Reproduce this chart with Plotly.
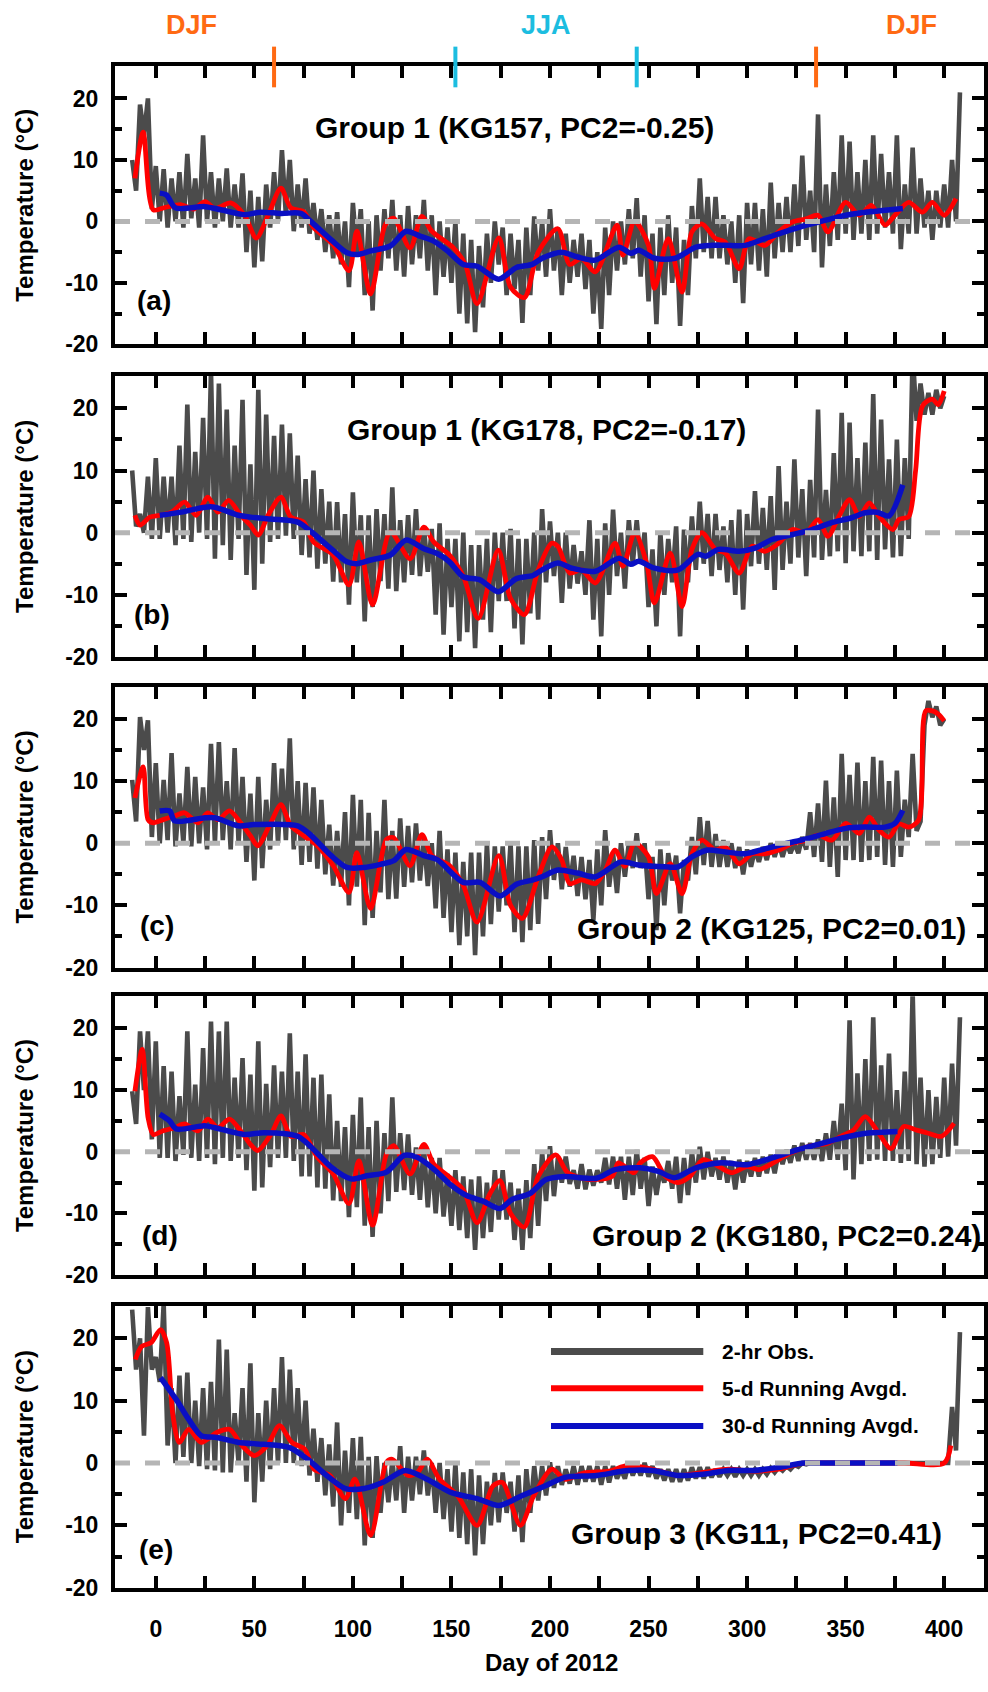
import plotly.graph_objects as go

# ---------------- data ----------------
# 2-hr observations: upper swings (days -12, -8, -4, ...) and lower swings (days -10, -6, -2, ...)
obs_hi_a = [10, 19, 20, 9, 8.5, 7, 8, 11, 7, 14,
            8, 7, 8.6, 6, 7.8, 5, 4, 6, 8, 11.6,
            10, 6, 7, 3, 2, 1, 1.5, 0, 3, 2,
            0, 1, 2, 3.5, 1, 2.5, 1, 3.5, 1, 0,
            -1, 0, -2, -3, -4, -2, 0, -1, -2, -3,
            -1, 0.8, 0, 2, -1, -2, -3, -2, -3, -5,
            -1, 0, 0, 2, 3.8, 1, -2, -1, 1, -1,
            -3, 2.5, 7, 4, 4, 1, 0, 1, 3, 3,
            2, 6.3, 3, 4, 6, 10.7, 5, 17.4, 6, 8,
            14, 13, 8, 10, 14, 11, 8, 14, 6, 12,
            7, 5, 5, 6, 10, 21]
obs_lo_a = [5, 14, 2, 0, -1, 0, -1, 0.5, -1, 0,
            -1, 0, -1, -1, -5, -7.5, -6.5, -1, 0, 1,
            -1.6, -1, -2, -3, -5, -6, -7, -10.7, -5, -12,
            -14.5, -8, -6, -8, -9, -7, -6, -8, -12, -9,
            -10, -15, -16.6, -18, -14, -10, -7, -12, -11, -16.5,
            -12, -8, -9, -8, -12, -10, -9, -11, -15, -17.5,
            -12, -8, -7, -6, -9, -13, -16.7, -12, -10, -17,
            -12, -6, -5, -6, -6, -7, -10, -13.3, -7, -8,
            -9, -6, -5, -5, -4, -3, -5, -7.5, -4, -3,
            -2, -3, -2, -3, -2, -1, -2, -4.5, -2, -2,
            -1, -3, -1, -1, 0]

obs_hi_b = [10, 3, 9, 12, 9, 9, 14, 20.6, 13, 18.5,
            26, 24, 19.8, 14, 21.4, 11, 23, 19, 15.6, 17.4,
            16, 12.4, 8.6, 10, 7, 5, 4.9, 3, 6.5, 2.8,
            2.8, 3.8, 3, 7.3, 2, 2.8, 3.8, 1, 0.6, 1.5,
            -1, -1, 0, -2, -2, -1, 0, 0, 0.6, -1,
            -1, 0, 3.8, 1.8, 0, 0, -2, -3, 2, -1,
            1.5, 3.7, 0, 2, 2, 0, -2.7, 0, -1, 1,
            0.5, 2.6, 5, 3, 3, 1, 2, 3.7, 3, 6.7,
            4, 5.9, 10.7, 5, 11.8, 7, 8.5, 19.8, 6.9, 12.8,
            19.3, 17.7, 12, 14.5, 22.3, 18.2, 11.8, 15, 12, 29,
            24, 22.5, 23, 22]
obs_lo_b = [1, 0, -1, -1, 0, -2, -1, -1.5, 0, -1,
            -4.2, -2, -4.4, -1, -6.8, -9.2, -5, -1.5, -1, -0.5,
            -1, -3.6, -4, -5.8, -5, -7.9, -8, -11.6, -8, -14.3,
            -12, -7.8, -9, -9.4, -8, -6.8, -7, -6.3, -13.2, -16.4,
            -12, -17.5, -16, -18.6, -14, -16, -11, -11, -15.4, -18,
            -13, -14, -8, -7, -11.3, -9, -8.2, -10, -14, -16.7,
            -10, -7, -9, -5, -4.9, -12, -15.1, -10, -8, -16.7,
            -8, -6, -5, -7, -6, -8, -10, -12.4, -5.4, -5,
            -6, -9.2, -6, -5, -4, -7, -4, -4.4, -3.8, -3,
            -4.9, -3, -3.8, -3, -4.4, -2.7, -4, -3.8, -1, 18,
            19, 19, 20]

obs_hi_c = [10.2, 20.3, 19.8, 12.9, 10.2, 14.5, 8, 12.3, 10.7, 9,
            16, 16.3, 10, 15.3, 10.7, 8, 10.7, 7, 12.9, 12,
            16.9, 10, 9.7, 9, 7, 3, 2, 5, 7.8, 7,
            4.9, 2, 7, 2, 4, 2.8, 3.2, 1, 0, 2,
            -1, -1.5, -3, -1.5, -1.5, 0, -0.5, -0.5, 0, -0.5,
            -0.5, 0.5, 1, 2.1, 0, -0.6, -2, -2.2, -2.7, -1,
            2.1, -1.6, 0, 0, 1.6, 0, -2.2, -1, -1.6, -2,
            -2.7, 1, 4.2, 3.6, 1.5, 0.5, 0, -0.6, -1, -1,
            -0.6, 0, 0, 0, 0, 1, 5, 6.4, 10.1, 7.4,
            14.4, 11, 13, 10, 13.9, 13.3, 10, 11.7, 7, 14.4,
            3.5, 22.9, 22, 20]
obs_lo_c = [3.5, 15, 1, 0, 0.5, -0.5, 0, -0.5, 0, -1,
            0, 0.5, -1, 0, -3, -6, -4, -1, 0, 0.5,
            -1, -3.5, -3, -4.1, -5, -6.8, -7, -10, -7, -13.2,
            -12, -7.9, -9, -8.9, -7, -6.3, -6, -6.9, -10.5, -12,
            -14.3, -16.4, -15, -18, -15, -13, -11, -10, -14.3, -15.9,
            -14, -13, -9, -5.9, -7.4, -7, -8.5, -9, -12.4, -10,
            -7, -8, -5.4, -4, -4, -9, -14, -10, -6, -11.3,
            -6, -5, -3.5, -3.8, -3.8, -3.8, -4, -5, -3.8, -3,
            -2.7, -2.2, -2.2, -1.6, -1.6, -1, -2.2, -3, -3.8, -5.4,
            -2.7, -2.7, -3, -2.7, -2.2, -3.5, -3.8, -2.2, 1, 2,
            19, 20.3, 19]

obs_hi_d = [9.8, 19.5, 19.5, 17.9, 13.9, 13, 9, 19.5, 10.9, 16.8,
            21.1, 19.5, 21.1, 12, 15.2, 12.5, 17.9, 11, 14, 13,
            19.2, 13, 15.8, 12, 12.5, 9.3, 5, 4, 6, 8.8,
            4, 5, 3, 8.8, 3, 2.8, 0.7, 1, -1, -1,
            -3.6, -3, -4, -4.5, -4, -5, -3, -3, -5, -6,
            -4.6, -2, 0, 0.9, -1, -0.8, -3, -2, -2.9, -3,
            -1, -0.8, -0.8, -0.8, 0.3, -1, -2.4, -3, -1.5, -0.8,
            -1, 0, 0.8, 0, -1, -0.8, -1.5, -1.3, -1.5, -1,
            -0.8, -0.5, 0, 0.3, 1, 1.4, 1.4, 2, 3, 5,
            7.8, 21.3, 12.7, 15, 21.8, 14, 15.9, 10, 13, 26,
            12, 10, 8.9, 12, 14.3, 21.8]
obs_lo_d = [4.5, 10, 2, -1, -1, -1.5, -0.5, -1, -1.5, -1,
            -2, -1, -1.5, -1, -3, -6.3, -5.8, -2.5, -1, -1,
            -1.5, -4, -4, -5.8, -6, -7.9, -8, -10.6, -9, -12,
            -13.8, -10, -8, -6.5, -6.2, -7, -7.8, -9, -10, -10.5,
            -12, -12.7, -14, -15.9, -14, -13, -11, -11, -14.3, -15.9,
            -14, -12, -8, -7.2, -5, -5.2, -6, -6.1, -5.5, -5,
            -5.3, -6, -7.8, -7, -6, -8.8, -7, -5, -6, -8.3,
            -7, -5, -4.5, -4, -4.5, -5, -6.1, -5, -4, -4,
            -3.5, -3.5, -2, -1.8, -1.5, -1.3, -1.3, -1.5, -1.3, -1.3,
            -3, -4.5, -2, -1.5, -1.3, -1.5, -1.5, -1.8, -1.5, -2,
            -2.4, -2, -1, -0.8, 1]

obs_hi_e = [24.6, 20, 25, 17, 25.6, 12, 14, 14.5, 10, 12,
            13, 19.8, 18.2, 8, 12, 16, 8, 10, 12, 17,
            15, 12, 10, 5.5, 4, 3, 6.5, 2, 4, 4.2,
            1, 1.1, 0, 0.5, 2.7, 1, 1, 2, 0, 0,
            -1, 0, -1.5, -1, -2, -3, -1.6, -1.5, -3, -2,
            -1, -0.5, -0.5, 0.1, -0.5, -1, -0.5, -0.5, -0.5, -0.5,
            -0.5, -0.5, -1, 0, -0.5, 0, -0.5, -1, -1, -1,
            -1, -0.7, -0.7, -0.7, -1, -1, -1, -1, -1, -1,
            -1, -0.8, -0.7, -0.5, -0.3, 0, 0, 0, 0, 0,
            0, 0, 0, 0, 0, 0, 0, 0, 0, 0,
            0, 0, 0, 0, 9, 21]
obs_lo_e = [15, 4.4, 15, 13, 2.8, 0, 1, 0, -0.5, -1,
            -1.2, -1.5, -1.5, 0, -3, -6.3, -3, -1, 0, 0,
            0, -0.5, -2, -3, -5.2, -7, -10, -8, -9, -13.2,
            -12, -8, -6.3, -6, -8, -6, -5, -5.2, -8, -9,
            -11, -12, -13, -14.8, -13, -10, -9.5, -8, -11, -12.7,
            -8, -6, -5.2, -4, -3.5, -3.3, -3.5, -3, -3, -3.5,
            -3.1, -2.5, -2.5, -2, -2, -2.2, -2.5, -2.8, -3, -3,
            -2.8, -2.5, -2.5, -2.3, -2.2, -2, -2.2, -2, -2, -2,
            -1.8, -1.5, -1.2, -1, -0.6, -0.2, 0, 0, 0, 0,
            0, 0, 0, 0, 0, 0, 0, 0, 0, 0,
            0, 0, 0, 0, 2]

# 5-day running average
red_day_a = [-10.6, -6.4, -1.3, 5, 13, 19, 25, 30, 38, 45, 51, 57, 63.5, 68.5, 75, 80, 90, 98, 102, 109,
             116.5, 120.7, 129, 135, 140, 151, 157, 163, 174, 180, 187, 194, 204, 210, 216, 223, 234, 237,
             243, 250, 253, 260, 267, 272, 277, 284, 289, 296, 301, 309, 316, 323, 330, 336, 341, 350,
             357, 363, 370, 375, 382, 389, 394, 400, 406]
red_a = [7, 14.5, 1.9, 2.3, 2.7, 2.0, 3.2, 2.1, 3, 1, -2.7, 1, 5.4, 2.2, 1.6, -1, -3.8, -8, -1.6, -11.8,
         -0.5, 0.5, -4.3, 0.8, -1.6, -4.3, -7, -13.4, -2.7, -10.7, -12.4, -5, -1.2, -7, -6, -8.2, -0.6, -5.5,
         0, -3.9, -10.9, -2.8, -11.5, -1.7, -0.4, -2.8, -3.4, -7.7, -2.8, -3.9, -1.7, -0.1, 0.4, 1, -1.7, 3.1,
         1, 2.6, -0.6, 1, 3.1, 1.5, 3.1, 1, 3.7]

red_day_b = [-10.6, -8, -3, 2, 8, 14.6, 20.5, 26.4, 31.5, 37, 43, 48, 52, 57, 63.5, 68.5, 75, 80, 90, 98,
             103, 110, 119, 129, 136, 141, 149, 156, 163.6, 173.7, 180, 187, 194, 200.8, 204, 210, 216, 223,
             233, 237, 243, 249, 253, 261, 267, 272, 277, 284, 289, 296, 302.5, 309, 316, 323, 330, 336, 341,
             346.5, 352, 357, 362, 367, 374, 377, 382, 385.5, 389, 394, 397, 400]
red_b = [2.8, 1.2, 2.5, 2.8, 3.3, 4.9, 2.8, 5.7, 3.3, 5.2, 2.8, 1.2, -0.4, 2.8, 5.7, 2.5, 1.7, -1.5, -3.6, -8.4,
         -1.5, -11.6, 0.1, -4.2, 0.9, -1.5, -3.6, -7, -13.8, -2.8, -10.6, -13.2, -6, -1.7, -2.2, -6.5, -6, -8.1,
         -1.7, -5.4, 0, -4.9, -11.3, -3.3, -11.9, -2.7, 0, -2.7, -3.3, -6.5, -2.2, -3, -1.7, 0.5, 0, 2.1, -0.6,
         2.6, 5.3, 2.6, 4.8, 2.6, 0.5, 2.1, 2.6, 10, 20.4, 21.5, 20.6, 22.8]

red_day_c = [-10.6, -6.4, -3.9, -1.3, 3.7, 9.6, 14.6, 21.4, 26.4, 31.5, 37.4, 43, 48, 51.7, 57.6, 63.5, 68.5,
             75, 82, 90, 98, 102, 109, 117, 120.7, 129, 135, 140, 149, 156, 163, 174, 180, 186, 194, 201, 206,
             210, 216, 223, 228, 233, 238, 243, 250, 254, 261, 267, 272, 277, 284, 289, 296, 302.5, 309, 316,
             323, 330, 336, 343, 350, 357, 362, 367, 372, 377, 382, 387, 390.6, 394, 397, 400]
red_c = [7.3, 12.3, 3.8, 3.3, 3.8, 4.4, 4.9, 3.3, 4.9, 3.8, 5.2, 3.3, 1.2, -0.4, 2.8, 6.2, 2.8,
         1.2, -0.4, -3.6, -7.9, -1.5, -10.5, 0.6, 0.9, -3.6, 1.4, -2, -3.6, -6.8, -12.7, -2, -10, -12.1, -5.4,
         -0.6, -2.7, -6.5, -5.9, -6.5, -4.4, -1.1, -3.7, 0, -2.2, -8.1, -3.3, -8.1, -1.7, 0.5, -1.1, -0.6, -3.3,
         -1.7, -1.7, -1.1, 0, 0.5, 1.3, 0.5, 3.2, 1.6, 4.2, 2.1, 1, 3.1, 2.6, 3.7, 21.3, 21.3, 20.8, 19.7]

red_day_d = [-10.6, -6.9, -3.9, -1.3, 3.7, 9.6, 14.6, 21.4, 26.4, 31.5, 37.4, 43, 48, 51.7, 58.4, 63.5, 68.5,
             75, 82, 90, 98, 103, 110, 117, 120.7, 129, 136, 141, 149, 156, 163, 169.5, 174.6, 180, 187, 194,
             202.9, 209, 220, 231.5, 234.7, 242.6, 245.8, 252, 258.6, 265, 271, 277.6, 285.6, 292, 300, 306,
             315.9, 322, 331.8, 341, 347.7, 354, 360, 366.8, 373, 379.5, 386, 392, 398.6, 405]
red_d = [9.8, 16.6, 5.5, 2.8, 3.4, 3.9, 4.5, 3.4, 5.3, 3.9, 5.3, 3.4, 1.2, 0.2, 2.8, 5.8, 2.5,
         2.8, -0.9, -3.6, -8.4, -1.5, -11.9, -0.4, 1, -3.6, 1.2, -2, -4.1, -6.2, -11.5, -6.8, -4.7, -10, -12.2, -4,
         -0.5, -3.4, -4.5, -4, -1.8, -3.4, -1.8, -0.8, -4, -5, -4, -1.3, -2.4, -3.4, -2.4, -2.9,
         -1.3, -0.2, 0.9, 1.4, 2.5, 3.5, 5.7, 3, 0.5, 4.1, 3.5, 3, 2.5, 4.6]

red_day_e = [-10.4, -7.2, -2.4, 2.4, 5.5, 8.7, 11.9, 16.7, 23, 31, 37.4, 43.7, 50, 56.5, 62.8, 69, 75.6, 80.3,
             88.3, 96.2, 101, 109, 117, 120, 128, 132.8, 137.6, 144, 153, 163, 171, 175.8, 185, 191.7, 201,
             207.6, 217, 230, 239.5, 252, 265, 277.6, 290.4, 303, 315.9, 328.6, 340, 360, 380, 400, 403.4]
red_e = [16.6, 18.7, 19.3, 21.4, 19.3, 7.6, 3.3, 5.4, 3.3, 4.9, 5.4, 2.8, 1.2, 2.8, 6, 3.3, 2.2, -1,
         -2, -5.7, -2.6, -11.6, 0.1, 0.6, -2, -1.5, 0.6, -2.6, -5.2, -10, -3.7, -3.1, -10, -5.3, -1,
         -2.6, -1.6, -1.3, -0.4, -1, -2, -1.5, -1, -1.3, -1, 0, 0, 0, 0, 0, 2.8]

# 30-day running average
blue_day_a = [2, 5.4, 10, 25, 33, 45, 53, 63.5, 73.6, 78.6, 89, 97, 102, 109, 119, 127, 134, 141, 148, 156,
              163, 174, 183, 191, 196, 206, 214, 223, 235, 241, 245, 253, 263.5, 274, 282, 289, 299, 309, 319,
              330, 340, 350, 360, 370, 379]
blue_a = [4.6, 4.3, 2.2, 2.4, 1.9, 1.1, 1.5, 1.3, 1.3, 0, -3, -5.1, -5.4, -4.8, -4, -1.6, -2.4, -3.2, -4.8, -7,
          -7.3, -9.4, -7.5, -7, -6, -5, -5.8, -6.3, -4.2, -5.2, -4.7, -6, -6, -4.2, -3.9, -3.9, -3.9, -2.8, -1.7,
          -0.6, 0.2, 1, 1.5, 1.8, 2.1]

blue_day_b = [2, 13, 25, 30, 42, 48, 58, 72, 79, 89, 97, 102, 109, 119, 127, 136, 143, 149, 156, 164.5,
              173.7, 183, 191.4, 196, 204, 211, 223, 235, 241, 245, 253, 265, 275, 279, 285.5, 296, 304, 312.6,
              323, 333, 343, 353, 360, 366, 372, 379]
blue_b = [2.8, 3.3, 4.1, 4.1, 2.8, 2.5, 2.2, 1.7, 0.1, -2.6, -4.7, -5, -4.4, -3.6, -1.2, -2.6, -3.4, -4.7, -7.1, -7.6,
          -9.5, -7.4, -6.9, -6, -4.9, -5.7, -6.2, -4.1, -5.1, -4.6, -5.7, -6, -3.5, -3.8, -2.7, -3, -2.5, -1.1,
          -0.3, 0.5, 1.6, 2.4, 3.2, 3.3, 2.7, 7.7]

blue_day_c = [2, 7, 9.6, 25, 30, 42, 50, 72, 79, 89, 97, 105.6, 114, 120.7, 127, 136, 142.6, 156, 164.5, 174.6,
              183, 191.4, 196, 204, 214, 223, 236, 245, 258, 265, 272, 280, 289, 299, 309, 319, 330, 340, 350,
              360, 370, 375, 379]
blue_c = [5.2, 5.2, 3.6, 4.1, 4.1, 2.8, 3, 2.8, 1.2, -2, -3.9, -3.9, -3.4, -2.8, -1, -2, -2.6, -6.3, -6.3, -8.5,
          -6.6, -5.9, -5.4, -4.3, -4.8, -5.4, -3, -3.5, -3.8, -3.8, -2.2, -1.1, -1.4, -1.7, -0.9, -0.1, 0.7, 1.6, 2.4,
          2.6, 2.6, 3.2, 5.3]

blue_day_d = [2, 7, 10.4, 24.7, 30, 45, 55, 72, 79, 89, 99, 107, 117, 126, 132.5, 141, 149, 157.7, 166, 174.6,
              181, 189.7, 198, 207.6, 223.6, 233, 245.8, 255, 263, 274, 287, 300, 312.7, 325.4, 335, 347.7,
              360.4, 376.3]
blue_d = [6.1, 5, 3.7, 4.2, 3.9, 2.8, 3.1, 2.5, 0.7, -2.5, -4.4, -3.9, -3.3, -0.6, -0.9, -2.8, -5.2, -7.1, -8, -9.2,
          -7.7, -6.8, -4.5, -4, -4.3, -2.9, -2.6, -3.2, -4.2, -2.6, -1.8, -2.1, -1, 0.3, 1.1, 2.2,
          3, 3.3]

blue_day_e = [2.4, 10.3, 16.7, 23, 31, 42, 54.9, 67.6, 77, 86.7, 96.2, 105.8, 115.3, 126.5, 137.6, 150.4, 163,
              174.2, 185.4, 198, 207.6, 223.6, 239.5, 252, 265, 277.6, 290.4, 303, 315.9, 328.6, 335, 376.3]
blue_e = [13.7, 10.2, 7, 4.4, 4.1, 3.3, 3, 2.5, 0.6, -2, -4.1, -4.1, -3.1, -1.2, -2.6, -4.8, -5.7,
          -6.8, -5.3, -3.6, -2.3, -2, -1.2, -1.2, -2, -1.8, -1.2, -1.2, -0.7, 0, 0, 0]

panel_titles = ["Group 1 (KG157, PC2=-0.25)", "Group 1 (KG178, PC2=-0.17)", "Group 2 (KG125, PC2=0.01)",
                "Group 2 (KG180, PC2=0.24)", "Group 3 (KG11, PC2=0.41)"]
panel_letters = ["(a)", "(b)", "(c)", "(d)", "(e)"]
season_labels = ["DJF", "JJA", "DJF"]
season_bounds = [60, 152, 244, 335]
legend_labels = ["2-hr Obs.", "5-d Running Avgd.", "30-d Running Avgd."]
y_title = "Temperature (\u00b0C)"
x_title = "Day of 2012"
x_tick_vals = list(range(0, 401, 50))
x_tick_text = [str(v) for v in x_tick_vals]
x_minor_vals = list(range(25, 400, 50))
y_tick_vals = [-20, -10, 0, 10, 20]
y_tick_text = ["-20", "-10", "0", "10", "20"]
y_minor_vals = [-15, -5, 5, 15]

# ---------------- styling / layout ----------------
W, H = 988, 1692
ML = 115
PW = W - ML
FONT = "Liberation Sans, Arial, Helvetica, sans-serif"
C_OBS, C_RED, C_BLUE = "#4B4B4B", "#FF0000", "#0A0FC4"
C_ORANGE, C_CYAN = "#FF6A13", "#1CBDE0"
XR = [-20.7, 420.2]
YR = [-20, 25.2]
panel_px = [(67, 347), (379, 662), (692, 975), (1004, 1285), (1316, 1600)]


def px(xp):
    return (xp - ML) / PW


def py(yp):
    return 1 - yp / H


def zigzag(hi, lo):
    xs, ys = [], []
    for i, h in enumerate(hi):
        xs.append(-12 + 4 * i)
        ys.append(h)
        if i < len(lo):
            xs.append(-10 + 4 * i)
            ys.append(lo[i])
    return xs, ys


def note(xpix, ypix, text, size, color="black", xanchor="center", angle=0):
    return dict(xref="paper", yref="paper", x=px(xpix), y=py(ypix), text=text, showarrow=False,
                xanchor=xanchor, yanchor="middle", textangle=angle,
                font=dict(family=FONT, size=size, weight="bold", color=color))


obs = [(obs_hi_a, obs_lo_a), (obs_hi_b, obs_lo_b), (obs_hi_c, obs_lo_c), (obs_hi_d, obs_lo_d), (obs_hi_e, obs_lo_e)]
reds = [(red_day_a, red_a), (red_day_b, red_b), (red_day_c, red_c), (red_day_d, red_d), (red_day_e, red_e)]
blues = [(blue_day_a, blue_a), (blue_day_b, blue_b), (blue_day_c, blue_c), (blue_day_d, blue_d), (blue_day_e, blue_e)]

fig = go.Figure()
shapes = []
annotations = []
layout = dict(width=W, height=H, margin=dict(l=ML, r=0, t=0, b=0), plot_bgcolor="white", paper_bgcolor="white",
              showlegend=False, font=dict(family=FONT, color="black"))

for i in range(5):
    n = i + 1
    xa = "x" if n == 1 else f"x{n}"
    ya = "y" if n == 1 else f"y{n}"
    hi, lo = obs[i]
    zx, zy = zigzag(hi, lo)
    fig.add_trace(go.Scatter(x=zx, y=zy, mode="lines", line=dict(color=C_OBS, width=4.6),
                             xaxis=xa, yaxis=ya, hoverinfo="skip"))
    fig.add_trace(go.Scatter(x=reds[i][0], y=reds[i][1], mode="lines",
                             line=dict(color=C_RED, width=4.8, shape="spline", smoothing=0.8),
                             xaxis=xa, yaxis=ya))
    fig.add_trace(go.Scatter(x=blues[i][0], y=blues[i][1], mode="lines",
                             line=dict(color=C_BLUE, width=5.5, shape="spline", smoothing=0.8),
                             xaxis=xa, yaxis=ya))
    top, bot = panel_px[i]
    last = (n == 5)
    xax = dict(
        domain=[0, 1], range=XR, anchor=ya, showline=True, linewidth=4, linecolor="black", mirror="ticks",
        ticks="inside", ticklen=12, tickwidth=4, tickcolor="black", tickvals=x_tick_vals,
        showticklabels=last, showgrid=False, zeroline=False,
        tickfont=dict(family=FONT, size=23, weight="bold"), ticklabelstandoff=18,
        minor=dict(tickvals=x_minor_vals, ticks="inside", ticklen=12, tickwidth=4, tickcolor="black"))
    if last:
        xax["ticktext"] = x_tick_text
    layout["xaxis" if n == 1 else f"xaxis{n}"] = xax
    layout["yaxis" if n == 1 else f"yaxis{n}"] = dict(
        domain=[py(bot), py(top)], range=YR, anchor=xa, showline=True, linewidth=4, linecolor="black",
        mirror="ticks", ticks="inside", ticklen=12, tickwidth=4, tickcolor="black", tickvals=y_tick_vals,
        ticktext=y_tick_text, showgrid=False, zeroline=False,
        tickfont=dict(family=FONT, size=23, weight="bold"), ticklabelstandoff=8,
        minor=dict(tickvals=y_minor_vals, ticks="inside", ticklen=7, tickwidth=4, tickcolor="black"))
    # zero reference line (drawn above the data)
    shapes.append(dict(type="line", xref=xa, yref=ya, x0=XR[0], x1=XR[1], y0=0, y1=0, layer="above",
                       line=dict(color="#B5B5B5", width=5, dash="15px,15px")))
    # y title
    annotations.append(note(24, (top + bot) / 2, y_title, 24, angle=-90))

# panel titles and letters
title_pos = [(516, 128), (548, 433), (775, 936), (790, 1245), (759, 1545)]
letter_pos = [(154, 303), (152, 619), (157, 933), (160, 1245), (156, 1562)]
for i in range(5):
    annotations.append(note(title_pos[i][0], title_pos[i][1], panel_titles[i], 30))
    annotations.append(note(letter_pos[i][0], letter_pos[i][1], panel_letters[i], 28))

# season markers on top of panel (a)
season_colors = [C_ORANGE, C_CYAN, C_CYAN, C_ORANGE]
for d, c in zip(season_bounds, season_colors):
    shapes.append(dict(type="line", xref="x", yref="paper", x0=d, x1=d, y0=py(88), y1=py(47),
                       line=dict(color=c, width=4)))
for lab, xpix, col in zip(season_labels, [192, 548, 915], [C_ORANGE, C_CYAN, C_ORANGE]):
    annotations.append(note(xpix, 25, lab, 27, color=col))

# x axis title
annotations.append(note(554, 1675, x_title, 24))

# legend (inside panel e)
for lab, ypix, col, wd in zip(legend_labels, [1362, 1399, 1437], [C_OBS, C_RED, C_BLUE], [7, 6, 6]):
    shapes.append(dict(type="line", xref="paper", yref="paper", x0=px(553), x1=px(706), y0=py(ypix),
                       y1=py(ypix), line=dict(color=col, width=wd)))
    annotations.append(note(723, ypix, lab, 21, xanchor="left"))

layout["shapes"] = shapes
layout["annotations"] = annotations
fig.update_layout(**layout)
fig.write_html("out.html")
